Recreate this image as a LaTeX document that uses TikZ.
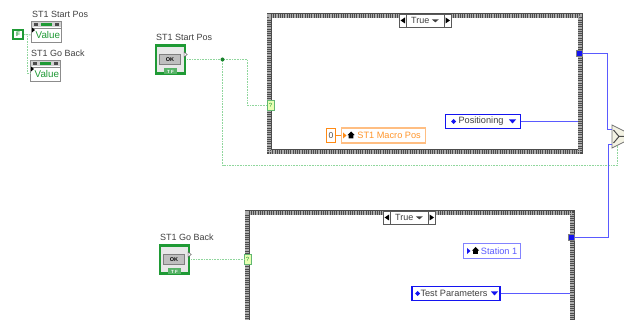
\documentclass[tikz,border=0pt]{standalone}
\usepackage{fontspec}
\setmainfont{Liberation Sans}
\definecolor{boolgreen}{HTML}{1F9A35}
\definecolor{wiregreen}{HTML}{8FD69C}
\definecolor{enumblue}{HTML}{1414F0}
\definecolor{wireblue}{HTML}{5A5AFF}
\definecolor{numorange}{HTML}{FF8A14}
\definecolor{paleorange}{HTML}{FFBE82}
\tikzset{
 lbl/.style={font=\fontsize{9}{11}\selectfont,text=black!75,inner sep=0pt},
 casewall/.style={draw=black!70,line width=5pt,postaction={draw=black!32,line width=3.4pt,dash pattern=on .8pt off 1pt}},
 casetab/.style={draw=black!65,line width=.8pt,fill=white,minimum width=39pt,minimum height=13pt,inner sep=0pt,font=\fontsize{9}{11}\selectfont,text=black!75},
 casearrow/.style={draw=black!65,line width=.8pt,fill=white,minimum width=7pt,minimum height=13pt,inner sep=0pt},
 selterm/.style={draw=boolgreen!70,fill=green!30!yellow!30,minimum width=6.5pt,minimum height=10pt,inner sep=0pt,font=\fontsize{6}{7}\selectfont,text=boolgreen},
 tunnel/.style={fill=enumblue,draw=black!50,minimum size=6pt,inner sep=0pt},
 wbool/.style={draw=wiregreen,line width=1pt,dash pattern=on 1pt off .6pt},
 wenum/.style={draw=wireblue,line width=1pt},
 enumk/.style={draw=enumblue,line width=1.7pt,fill=white,minimum height=14pt,inner sep=0pt,font=\fontsize{9.2}{11}\selectfont,text=black!75},
 localv/.style={line width=1.2pt,fill=white,minimum height=15pt,inner sep=0pt,font=\fontsize{9.2}{11}\selectfont},
 propbody/.style={draw=black!45,line width=.8pt,fill=white,minimum width=30pt,minimum height=21pt,inner sep=0pt},
}
\newcommand{\homeicon}{\tikz[x=1pt,y=1pt,baseline=0pt]{\fill[black](0,3.4)--(3.6,7)--(7.2,3.4)--(6,3.4)--(6,0)--(1.2,0)--(1.2,3.4)--cycle;}}
% control terminal with the OK key
\newcommand{\okbtn}[2]{
\node[draw=boolgreen,line width=2.4pt,fill=black!9,minimum width=29pt,minimum height=28pt,inner sep=0pt](#1)at(#2){};
\node[draw=black!50,fill=black!25,line width=1pt,minimum width=21pt,minimum height=10pt,inner sep=0pt,font=\fontsize{5.5}{6}\selectfont\bfseries](#1k)at([xshift=-.5pt]#1.center){OK};
\node[fill=boolgreen!75,minimum width=13pt,minimum height=6pt,inner sep=0pt,font=\fontsize{4.5}{5}\selectfont\bfseries,text=white,anchor=south](#1t)at(#1.south){T F};
\fill[white,draw=black!60,line width=.5pt]([xshift=-2pt,yshift=2.5pt]#1.east)--++(3,-2.5)--++(-3,-2.5)--cycle;
\coordinate(#1o)at([xshift=1pt]#1.east);
}
% property node with its Value row
\newcommand{\valnode}[4]{
\node[lbl,anchor=west](#1l)at(#2+1,#3-7){#4};
\node[propbody,anchor=north west](#1)at(#2,#3){};
\fill[black!18]([xshift=.6pt,yshift=-.6pt]#1.north west)rectangle([xshift=-.6pt,yshift=-6.5pt]#1.north east);
\fill[boolgreen]([xshift=10pt,yshift=-2pt]#1.north west)rectangle([xshift=-10pt,yshift=-5pt]#1.north east);
\fill[black!70]([xshift=3pt,yshift=-2pt]#1.north west)rectangle([xshift=7pt,yshift=-5pt]#1.north west);
\fill[black!70]([xshift=-7pt,yshift=-2pt]#1.north east)rectangle([xshift=-3pt,yshift=-5pt]#1.north east);
\draw[black!45,line width=.5pt]([yshift=-6.8pt]#1.north west)--([yshift=-6.8pt]#1.north east);
\node[inner sep=0pt,anchor=west,font=\fontsize{9.8}{11}\selectfont,text=boolgreen](#1v)at([xshift=4.5pt,yshift=-14pt]#1.north west){Value};
\fill[black]([xshift=1pt,yshift=-11.5pt]#1.north west)--++(3,-2.5)--++(-3,-2.5)--cycle;
\coordinate(#1i)at([yshift=-14pt]#1.north west);
}
\begin{document}
\begin{tikzpicture}[x=1pt,y=-1pt]
\useasboundingbox(0,0)rectangle(624,320);
\clip(0,0)rectangle(624,320);
% property nodes
\valnode{a}{31}{21}{ST1 Start Pos}
\valnode{b}{30}{60}{ST1 Go Back}
\node[draw=boolgreen,line width=2pt,fill=white,minimum width=10.5pt,minimum height=9.5pt,inner sep=0pt,font=\fontsize{6.5}{7}\selectfont\bfseries,text=boolgreen](f)at(18,34.5){F};
\coordinate(fj)at(27.5,34.5);
\draw[wbool](f.east)--(ai);
\draw[wbool](fj)|-(bi);
% case structures
\node[casewall,minimum width=311pt,minimum height=136pt,inner sep=0pt](c1)at(424.5,84){};
\node[casewall,minimum width=325pt,minimum height=200pt,inner sep=0pt](c2)at(409.5,313){};
\node[casetab](t1)at(425,20.5){True\hspace{1pt}\,\raisebox{1.2pt}{\tikz[x=1pt,y=1pt]\fill[black!75](0,3)--(7,3)--(3.5,0)--cycle;}};
\node[casearrow](t1a)at(402.5,20.5){};\fill[black](405,17.5)--(400.5,20.5)--(405,23.5)--cycle;
\node[casearrow](t1b)at(447.5,20.5){};\fill[black](445.5,17.5)--(450,20.5)--(445.5,23.5)--cycle;
\node[casetab](t2)at(409,217.5){True\hspace{1pt}\,\raisebox{1.2pt}{\tikz[x=1pt,y=1pt]\fill[black!75](0,3)--(7,3)--(3.5,0)--cycle;}};
\node[casearrow](t2a)at(386.5,217.5){};\fill[black](389,214.5)--(384.5,217.5)--(389,220.5)--cycle;
\node[casearrow](t2b)at(431.5,217.5){};\fill[black](429.5,214.5)--(434,217.5)--(429.5,220.5)--cycle;
% buttons
\node[lbl,anchor=west](s1l)at(156,37){ST1 Start Pos};
\okbtn{s1}{170.5,59.5}
\node[lbl,anchor=west](s2l)at(160,237){ST1 Go Back};
\okbtn{s2}{174.5,259.5}
\node[selterm](q1)at(270.5,105.5){?};
\node[selterm](q2)at(247.5,259.5){?};
\coordinate(j1)at(222.5,59.5);
\coordinate(k1)at(247.5,59.5);
\coordinate(m1)at(222.5,165.5);
% select
\filldraw[draw=black!55,fill=yellow!55!black!12,line width=.8pt](612,125)--(626,132)--(626,141)--(612,148)--cycle;
\draw[black!70,line width=1pt](613.5,130)--(619,136.5)--(613.5,143)(619,136.5)--(625,136.5);
\coordinate(selb)at(617.5,146);
\coordinate(selt)at(612,129.5);
\coordinate(sell)at(612,144.5);
% green wires
\draw[wbool](s1o)--(k1)|-(q1.west);
\draw[wbool](j1)--(m1)-|(selb);
\fill[boolgreen!85!black](j1)circle(2pt);
\draw[wbool](s2o)--(q2.west);
% enums and locals
\node[enumk,minimum width=70pt](e1)at(483,121.5){\hspace*{13pt}Positioning\hspace*{17pt}};
\node[enumk,minimum width=88pt,minimum height=14pt](e2)at(456,293.5){\hspace*{8pt}Test Parameters\hspace*{12pt}};
\node[tunnel](o1)at(579,53.5){};
\node[tunnel](o2)at(571,237.5){};
\coordinate(x1)at(607.5,53.5);
\coordinate(x2)at(608.5,237.5);
\fill[enumblue](451,121.5)--(453.5,119)--(456,121.5)--(453.5,124)--cycle;
\fill[enumblue](415,293.5)--(417.5,291)--(420,293.5)--(417.5,296)--cycle;
\fill[enumblue](509,119.5)--(516,119.5)--(512.5,123.5)--cycle;
\fill[enumblue](491,291.5)--(498,291.5)--(494.5,295.5)--cycle;
\draw[wenum](e1.east)--(578,121.5);
\draw[wenum](e2.east)--(570,293.5);
\draw[wenum](o1.east)--(x1)--(x1|-selt)--(selt);
\draw[wenum](o2.east)--(x2)--(x2|-sell)--(sell);
\node[draw=numorange,line width=1.7pt,fill=white,minimum width=9pt,minimum height=14pt,inner sep=0pt,font=\fontsize{8.5}{10}\selectfont,text=black!70](n0)at(331,135.5){0};
\node[localv,draw=paleorange,text=numorange!90,minimum width=84pt,anchor=west](lc1)at(341,135.5){\hspace*{14pt}ST1 Macro Pos\hspace*{3pt}};
\draw[draw=numorange,line width=.7pt](n0.east)--(lc1.west);
\fill[numorange](343,132.5)--(346.5,135.5)--(343,138.5)--cycle;
\node[inner sep=0pt](h1)at(351,135){\homeicon};
\node[localv,draw=wireblue!75,text=wireblue,minimum width=57pt,anchor=west](lc2)at(463,251){\hspace*{16pt}Station 1\hspace*{2pt}};
\fill[enumblue](467,248)--(470.5,251)--(467,254)--cycle;
\node[inner sep=0pt](h2)at(475.5,250.5){\homeicon};
\end{tikzpicture}
\end{document}
